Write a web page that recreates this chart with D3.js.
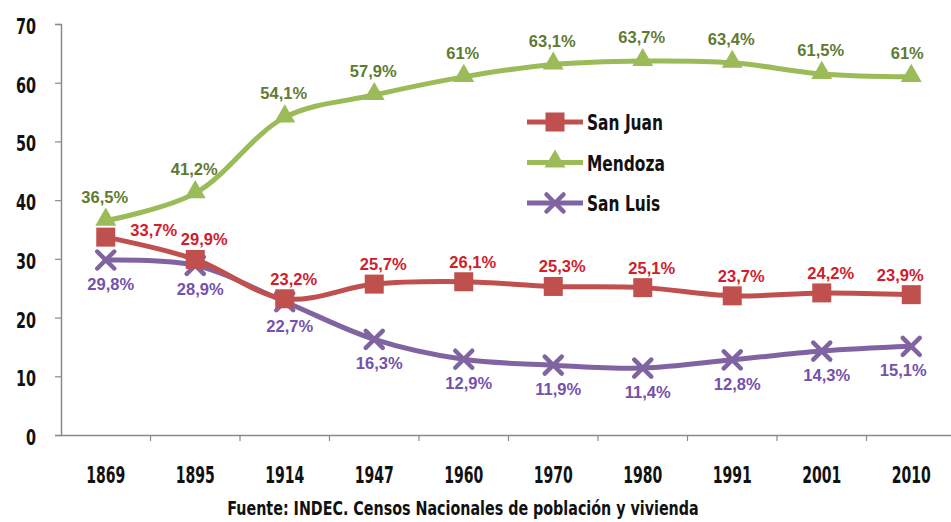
<!DOCTYPE html>
<html><head><meta charset="utf-8">
<script src="https://cdn.jsdelivr.net/npm/d3@7"></script>
<style>
body{margin:0;background:#fff;}
svg{display:block;}
.cond{font-family:"Liberation Sans Narrow","DejaVu Sans Condensed","Arial Narrow",sans-serif;font-weight:bold;fill:#111;}
.lbl{font-family:"Liberation Sans",Arial,sans-serif;font-weight:bold;font-size:16.5px;}
</style></head>
<body>
<svg id="c" width="951" height="522"></svg>
<script>
const years = ["1869","1895","1914","1947","1960","1970","1980","1991","2001","2010"];
const sanJuan = [33.7,29.9,23.2,25.7,26.1,25.3,25.1,23.7,24.2,23.9];
const mendoza = [36.5,41.2,54.1,57.9,61,63.1,63.7,63.4,61.5,61];
const sanLuis = [29.8,28.9,22.7,16.3,12.9,11.9,11.4,12.8,14.3,15.1];
const sanJuanLabels = ["33,7%","29,9%","23,2%","25,7%","26,1%","25,3%","25,1%","23,7%","24,2%","23,9%"];
const mendozaLabels = ["36,5%","41,2%","54,1%","57,9%","61%","63,1%","63,7%","63,4%","61,5%","61%"];
const sanLuisLabels = ["29,8%","28,9%","22,7%","16,3%","12,9%","11,9%","11,4%","12,8%","14,3%","15,1%"];
const yTicks = [0,10,20,30,40,50,60,70];
const seriesNames = ["San Juan","Mendoza","San Luis"];
const sourceText = "Fuente: INDEC. Censos Nacionales de población y vivienda";

const svg = d3.select("#c");
const x = d3.scaleBand().domain(years).range([61,956]);
const y = d3.scaleLinear().domain([0,70]).range([435,24]);
const cx = d => x(d) + x.bandwidth()/2;

function condText(g, px, py, txt, size, sx, anchor){
  return g.append("text").attr("class","cond").style("font-size",size+"px")
    .attr("text-anchor",anchor).attr("transform",`translate(${px},${py}) scale(${sx},1)`).text(txt);
}

// y axis
const yAxis = svg.append("g").attr("transform","translate(61,0)")
  .call(d3.axisLeft(y).tickValues(yTicks).tickSize(6).tickFormat(""));
yAxis.select(".domain").attr("stroke","#8a8a8a").attr("stroke-width",1.5);
yAxis.selectAll(".tick line").attr("stroke","#8a8a8a").attr("stroke-width",1.2);
const yl = svg.append("g");
yTicks.forEach(t=>condText(yl, 36, y(t)+10, String(t), 20.5, 0.78, "end"));

// x axis
const xAxis = svg.append("g").attr("transform","translate(0,435)")
  .call(d3.axisBottom(x).tickSize(0).tickFormat(""));
xAxis.select(".domain").attr("stroke","#8a8a8a").attr("stroke-width",1.5);
xAxis.selectAll(".tick").remove();
svg.append("g").selectAll("line").data(years.slice(1)).join("line")
  .attr("x1",d=>x(d)).attr("x2",d=>x(d)).attr("y1",435).attr("y2",441)
  .attr("stroke","#8a8a8a").attr("stroke-width",1.2);
const xl = svg.append("g");
years.forEach(yr=>condText(xl, cx(yr), 483, yr, 23, 0.68, "middle"));

// series
const cfg = [
  {name:seriesNames[0], vals:sanJuan, labels:sanJuanLabels, color:"#c0504d", lcolor:"#d0202a", marker:"square"},
  {name:seriesNames[1], vals:mendoza, labels:mendozaLabels, color:"#9bbb59", lcolor:"#5f7a33", marker:"triangle"},
  {name:seriesNames[2], vals:sanLuis, labels:sanLuisLabels, color:"#8064a2", lcolor:"#7550ac", marker:"x"}
];
const line = d3.line().x((v,i)=>cx(years[i])).y(v=>y(v)).curve(d3.curveCatmullRom.alpha(0.5));

function drawMarker(g, type, color, px, py){
  if(type==="square"){
    g.append("rect").attr("x",px-9.5).attr("y",py-9.5).attr("width",19).attr("height",19).attr("fill",color);
  } else if(type==="triangle"){
    g.append("path").attr("d",d3.symbol(d3.symbolTriangle,190)()).attr("transform",`translate(${px},${py-1})`).attr("fill",color);
  } else {
    g.append("path").attr("d",`M${px-8.5},${py-8.5}L${px+8.5},${py+8.5}M${px-8.5},${py+8.5}L${px+8.5},${py-8.5}`)
      .attr("stroke",color).attr("stroke-width",4.5).attr("stroke-linecap","round");
  }
}

[cfg[2],cfg[0],cfg[1]].forEach(s=>{
  svg.append("path").datum(s.vals).attr("d",line).attr("fill","none")
    .attr("stroke",s.color).attr("stroke-width",5).attr("stroke-linejoin","round");
  const g = svg.append("g");
  s.vals.forEach((v,i)=>drawMarker(g,s.marker,s.color,cx(years[i]),y(v)));
});

// labels
const last = years.length-1;
cfg.forEach(s=>{
  svg.append("g").selectAll("text").data(s.vals).join("text")
    .attr("class","lbl").attr("fill",s.lcolor).attr("text-anchor","middle")
    .attr("x",(v,i)=>{
      const px = cx(years[i]);
      if(s.name==="San Juan") return i===0 ? px+48 : (i===last ? px-11 : px+9);
      if(s.name==="San Luis") return i===last ? px-8 : px+5;
      return i===last ? px-4 : px-1;
    })
    .attr("y",(v,i)=>{
      const py = y(v);
      if(s.name==="San Juan") return i===0 ? py-1 : py-14;
      if(s.name==="San Luis") return py+30;
      return py-18;
    })
    .text((v,i)=>s.labels[i]);
});

// legend
const leg = svg.append("g");
cfg.forEach((s,i)=>{
  const ly = 122 + i*40.5;
  leg.append("line").attr("x1",527).attr("x2",583).attr("y1",ly).attr("y2",ly)
    .attr("stroke",s.color).attr("stroke-width",5);
  drawMarker(leg,s.marker,s.color,555,ly);
  condText(leg, 587, ly+8, s.name, 22, 0.78, "start");
});

condText(svg, 463, 515, sourceText, 20, 0.795, "middle");
</script>
</body></html>
